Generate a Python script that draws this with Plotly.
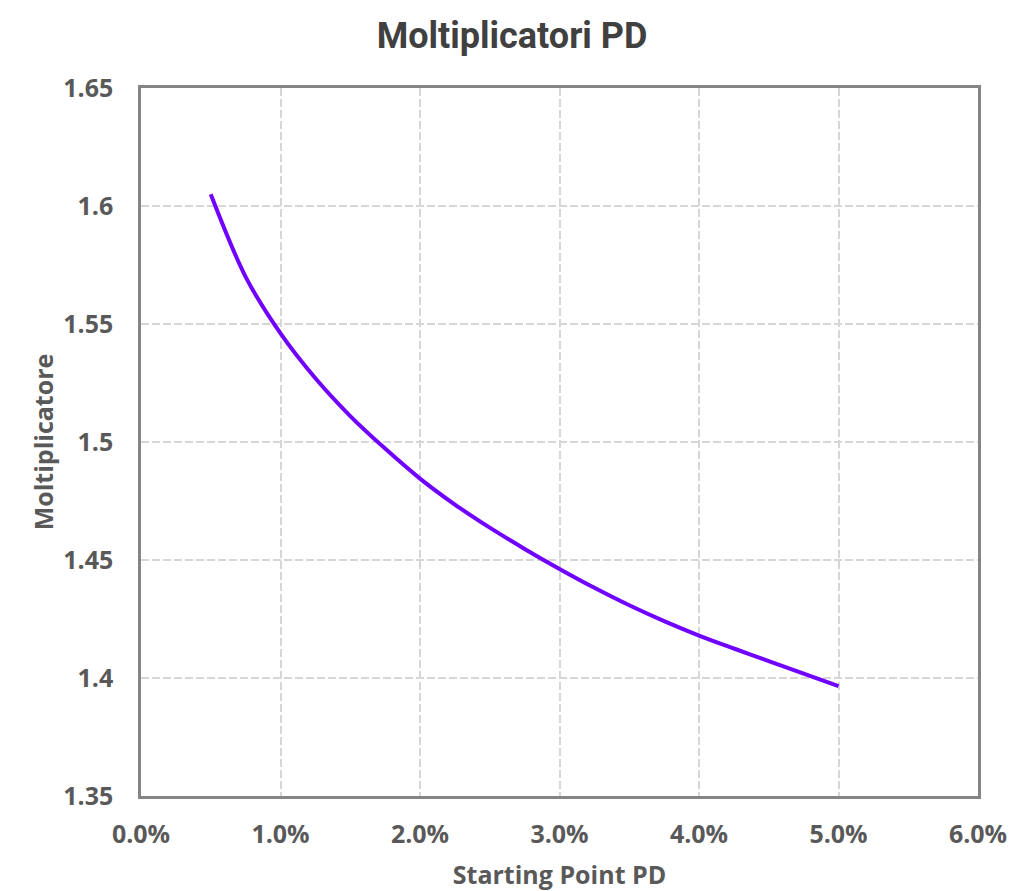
import plotly.graph_objects as go

pd_start = [0.0050, 0.0075, 0.0100, 0.0125, 0.0150, 0.0175, 0.0200, 0.0225,
            0.0250, 0.0275, 0.0300, 0.0325, 0.0350, 0.0375, 0.0400, 0.0425,
            0.0450, 0.0475, 0.0500]
multiplier = [1.6050, 1.5700, 1.5460, 1.5270, 1.5110, 1.4972, 1.4845, 1.4735,
              1.4637, 1.4547, 1.4462, 1.4382, 1.4308, 1.4241, 1.4180, 1.4125,
              1.4072, 1.4019, 1.3966]

title_text = "Moltiplicatori PD"
x_title = "Starting Point PD"
y_title = "Moltiplicatore"

grey = "#595959"
body_font = "Open Sans, Lato, sans-serif"

fig = go.Figure()
fig.add_trace(go.Scatter(
    x=pd_start, y=multiplier, mode="lines",
    line=dict(color="#7000ff", width=4, shape="spline", smoothing=0.9),
    showlegend=False,
))

fig.update_layout(
    width=1010, height=891,
    margin=dict(l=141, r=32, t=88, b=95, autoexpand=False),
    paper_bgcolor="white", plot_bgcolor="white",
    title=dict(text="<b>" + title_text + "</b>", x=0.507, xanchor="center",
               y=0.96, yanchor="middle",
               font=dict(family="Roboto, Arial, sans-serif",
                         size=36, color="#404040")),
)

grid_common = dict(
    showline=True, linecolor="#858585", linewidth=2.5, mirror=True,
    showgrid=True, gridcolor="#d6d6d6", gridwidth=1.5, griddash="8px,3px",
    zeroline=False, tickcolor="rgba(0,0,0,0)", ticks="outside",
    automargin=False,
    tickfont=dict(family=body_font, size=25, color=grey, weight="bold"),
)

fig.update_xaxes(
    range=[0, 0.06], dtick=0.01, tickformat=".1%", ticklen=14,
    title=dict(text=x_title, standoff=22,
               font=dict(family=body_font, size=25, color=grey, weight="bold")),
    **grid_common,
)
fig.update_yaxes(
    range=[1.35, 1.65], dtick=0.05, ticklen=20,
    title=dict(text=y_title, standoff=3,
               font=dict(family=body_font, size=25, color=grey, weight="bold")),
    **grid_common,
)

fig.write_html("out.html")
